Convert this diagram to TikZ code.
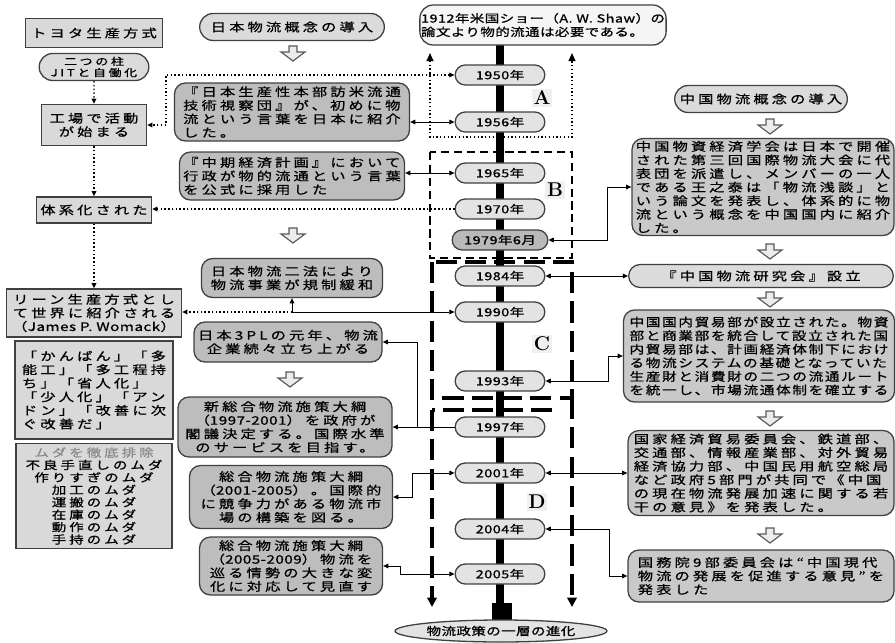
\documentclass[tikz,border=0pt]{standalone}
\usepackage{fontspec}
\newfontfamily\jp[FakeStretch=1.3,LetterSpace=27,FakeBold=0.8]{Noto Sans CJK JP}
\newfontfamily\jpnar[FakeStretch=1.25,LetterSpace=14,FakeBold=0.8]{Noto Sans CJK JP}
\newfontfamily\jpyr[FakeStretch=1.3,LetterSpace=4,FakeBold=0.8]{Noto Sans CJK JP}
\usetikzlibrary{arrows.meta, shapes.geometric, shapes.misc}

\begin{document}
\begin{tikzpicture}[x=0.03cm, y=-0.03cm, >={Triangle[length=4.5pt,width=4pt]}, thick,
  wh/.style 2 args={minimum width=#1*0.03cm, minimum height=#2*0.03cm},
  base/.style={draw=black!75, line width=1.1pt, inner sep=1pt, font=\jp\fontsize{10}{11.6}\selectfont},
  leftbox/.style={base, fill=gray!30, rectangle, align=center},
  introbox/.style={base, fill=gray!28, rounded rectangle, align=center},
  midbox/.style={base, fill=gray!52, rectangle, rounded corners=0.33cm, align=center},
  rightbox/.style={base, fill=gray!42, rectangle, rounded corners=0.33cm, align=left},
  year/.style={base, fill=gray!22, rounded rectangle, wh={92}{20}, font=\jpyr\fontsize{9.5}{10}\selectfont},
  region/.style={fill=gray!12, inner sep=1.5pt, font=\rmfamily\bfseries\fontsize{17}{17}\selectfont},
  dotline/.style={dotted, line width=1.2pt},
  link/.style={line width=0.8pt},
  bigtip/.style={-{Triangle[length=8pt,width=8pt]}},
  downarr/.pic={\draw [draw=black!65, fill=gray!15, line width=1pt] (-4,-7) -- (4,-7) -- (4,-1) -- (12,-1) -- (0,8) -- (-12,-1) -- (-4,-1) -- cycle;}]

  \useasboundingbox (0,0) rectangle (895,642);

  \draw [line width=6pt] (500,45) -- (500,604);
  \draw [dotline, {Triangle[length=7pt,width=6pt]}-{Triangle[length=7pt,width=6pt]}] (430,53) -- (430,137) -- (572,137) -- (572,53);
  \draw [line width=1.5pt, dash pattern=on 7pt off 4pt] (430,152) rectangle (572,258);
  \draw [line width=2.8pt, dash pattern=on 18pt off 7pt] (432,262) rectangle (572,398);
  \draw [line width=2.8pt, dash pattern=on 18pt off 7pt] (552,410) -- (432,410);
  \draw [line width=2.8pt, dash pattern=on 18pt off 7pt, bigtip] (432,410) -- (432,607);
  \draw [line width=2.8pt, dash pattern=on 18pt off 7pt, bigtip] (572,398) -- (572,607);

  \node [leftbox, wh={137}{29}] (toyota) at (94,33) {トヨタ生産方式};
  \node [introbox, wh={112}{27}, font=\jp\fontsize{8.5}{9.6}\selectfont] (pillar) at (94,67) {二つの柱\\JITと自働化};
  \node [leftbox, wh={105}{41}] (kojo) at (94,125) {工場で活動\\が始まる};
  \node [leftbox, wh={115}{26}] (taikei) at (94,210) {体系化された};
  \node [leftbox, wh={175}{48}] (lean) at (94,313) {リーン生産方式とし\\て世界に紹介される\\{\jpyr （James P. Womack）}};
  \node [leftbox, wh={158}{98}, align=left] (kanban) at (94,390) {「かんばん」「多\\能工」「多工程持\\ち」「省人化」\\「少人化」「アン\\ドン」「改善に次\\ぐ改善だ」};
  \node [leftbox, wh={156}{105}, font=\jp\fontsize{9.5}{10.6}\selectfont] (muda) at (94,496) {{\color{black!45}ムダを徹底排除}\\不良手直しのムダ\\作りすぎのムダ\\加工のムダ\\運搬のムダ\\在庫のムダ\\動作のムダ\\手持のムダ};

  \node [introbox, wh={187}{27}] (jpintro) at (292,27) {日本物流概念の導入};
  \pic at (293,53) {downarr};
  \node [midbox, wh={235}{58}, align=left] (visit) at (292,112) {『日本生産性本部訪米流通\\技術視察団』が、初めに物\\流という言葉を日本に紹介\\した。};
  \node [midbox, wh={225}{48}, align=left] (plan) at (292,176) {『中期経済計画』において\\行政が物的流通という言葉\\を公式に採用した};
  \pic at (293,235) {downarr};
  \node [midbox, wh={181}{39}] (nitokyo) at (292,278) {日本物流二法により\\物流事業が規制緩和};
  \node [midbox, wh={188}{40}] (tpl) at (288,342) {日本3PLの元年、物流\\企業続々立ち上がる};
  \pic at (290,379) {downarr};
  \node [midbox, wh={214}{60}] (shin) at (285,427) {新総合物流施策大綱\\（{\jpyr 1997-2001}）を政府が\\閣議決定する。国際水準\\のサービスを目指す。};
  \node [midbox, wh={203}{63}] (sogo1) at (291,497) {総合物流施策大綱\\（{\jpyr 2001-2005}）。国際的\\に競争力がある物流市\\場の構築を図る。};
  \node [midbox, wh={183}{58}] (sogo2) at (291,566) {総合物流施策大綱\\（{\jpyr 2005-2009}）物流を\\巡る情勢の大きな変\\化に対応して見直す};

  \node [base, rectangle, rounded corners=0.4cm, fill=gray!8, wh={237}{40}, align=left, font=\jpyr\fontsize{9.5}{11.6}\selectfont] (shaw) at (543,25) {1912年米国ショー（A. W. Shaw）の\\論文より物的流通は必要である。};
  \node [year] (y1950) at (500,75) {1950年};
  \node [year] (y1956) at (500,122) {1956年};
  \node [year] (y1965) at (500,173) {1965年};
  \node [year] (y1970) at (500,209) {1970年};
  \node [year, fill=gray!55, wh={98}{20}] (y1979) at (500,240) {1979年6月};
  \node [year] (y1984) at (500,276) {1984年};
  \node [year] (y1990) at (500,312) {1990年};
  \node [year] (y1993) at (500,381) {1993年};
  \node [year] (y1997) at (500,427) {1997年};
  \node [year] (y2001) at (500,473) {2001年};
  \node [year] (y2004) at (500,529) {2004年};
  \node [year] (y2005) at (500,574) {2005年};
  \node [fill=black, inner sep=0pt, wh={20}{18}] (foot) at (502,612) {};
  \node [base, ellipse, fill=gray!22, wh={212}{22}, inner sep=0pt, font=\jpyr\fontsize{9.5}{11}\selectfont] (goal) at (501,631) {物流政策の一層の進化};
  \node [region] (labA) at (542,98) {A};
  \node [region] (labB) at (555,190) {B};
  \node [region] (labC) at (542,344) {C};
  \node [region] (labD) at (537,502) {D};

  \node [introbox, wh={175}{27}] (cnintro) at (761,99) {中国物流概念の導入};
  \pic at (770,126) {downarr};
  \node [rightbox, wh={262}{97}] (cnbig) at (763,187) {中国物資経済学会は日本で開催\\された第三回国際物流大会に代\\表団を派遣し、メンバーの一人\\である王之泰は「物流浅談」と\\いう論文を発表し、体系的に物\\流という概念を中国国内に紹介\\した。};
  \pic at (770,251) {downarr};
  \node [introbox, wh={267}{23}] (kenkyu) at (761,276) {『中国物流研究会』設立};
  \pic at (770,299) {downarr};
  \node [rightbox, wh={271}{92}, font=\jpnar\fontsize{10}{11.6}\selectfont] (naibo) at (759,356) {中国国内貿易部が設立された。物資\\部と商業部を統合して設立された国\\内貿易部は、計画経済体制下におけ\\る物流システムの基礎となっていた\\生産財と消費財の二つの流通ルート\\を統一し、市場流通体制を確立する};
  \pic at (770,418) {downarr};
  \node [rightbox, wh={266}{85}] (keizai) at (761,473) {国家経済貿易委員会、鉄道部、\\交通部、情報産業部、対外貿易\\経済協力部、中国民用航空総局\\など政府5部門が共同で《中国\\の現在物流発展加速に関する若\\干の意見》を発表した。};
  \pic at (770,535) {downarr};
  \node [rightbox, wh={266}{52}] (kokumu) at (761,576) {国務院9部委員会は“中国現代\\物流の発展を促進する意見”を\\発表した};

  \draw [dotline, ->] (pillar) -- (kojo);
  \draw [dotline, ->] (kojo) -- (taikei);
  \draw [dotline, ->] (taikei) -- (lean);
  \draw [dotline, <->] (y1950.west) -- (166,75) |- (kojo.east);
  \draw [link, <->] (y1956.west) -- (y1956.west -| visit.east);
  \draw [link, <->] (y1965.west) -- (y1965.west -| plan.east);
  \draw [dotline, ->] (y1970.west) -- (y1970.west -| taikei.east);
  \draw [link, <->] (y1990.west) -| (nitokyo.south);
  \draw [dotline, ->] (nitokyo.south |- y1990.west) -- (y1990.west -| lean.east);
  \draw [link, ->] (y1997.west) -- (y1997.west -| shin.east);
  \draw [link, ->] (y1997.west) -- ++(-37,0) |- (tpl.east);
  \draw [link, <->] (y2001.west) -- ++(-42,0) |- (sogo1.east);
  \draw [link, <->] (y2005.west) -- ++(-54,0) |- (sogo2.east);
  \draw [link, <->] (y1979.east) -- ++(59,0) |- (cnbig.west);
  \draw [link, <->] (y1984.east) -- (kenkyu.west);
  \draw [link, <->] (y1993.east) -- ++(63,0) |- (naibo.west);
  \draw [link, <->] (y2001.east) -- (y2001.east -| keizai.west);
  \draw [link, <->] (y2004.east) -- ++(64,0) |- (kokumu.west);
\end{tikzpicture}
\end{document}
